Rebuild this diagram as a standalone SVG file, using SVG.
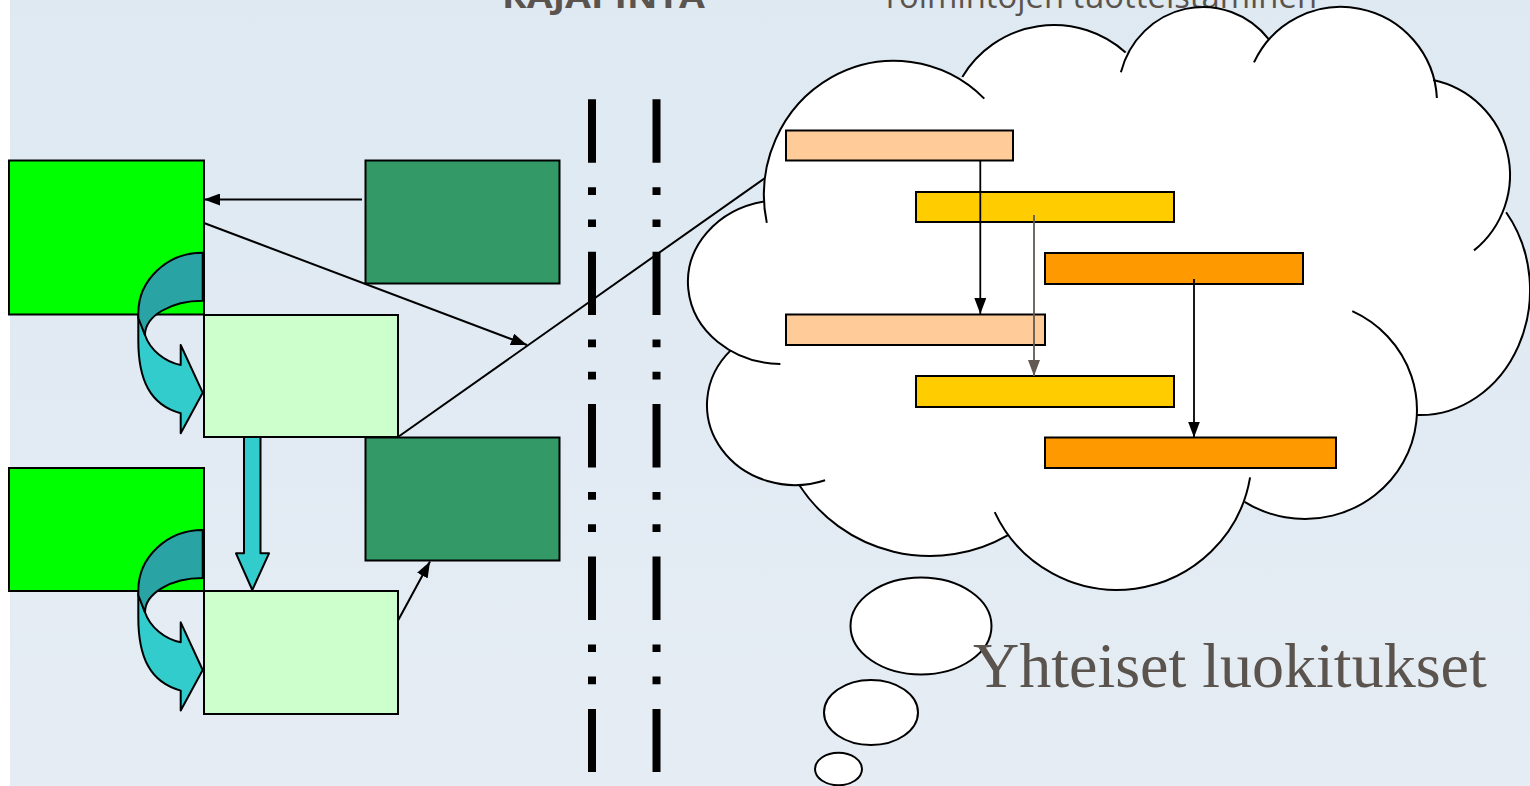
<svg xmlns="http://www.w3.org/2000/svg" width="1530" height="786" viewBox="0 0 1530 786">
  <defs>
    <linearGradient id="bg" x1="0" y1="0" x2="0" y2="1">
      <stop offset="0" stop-color="#DEE9F2"/>
      <stop offset="1" stop-color="#E5ECF4"/>
    </linearGradient>
    <marker id="ah" viewBox="0 0 10 10" refX="10" refY="5" markerWidth="16" markerHeight="12" markerUnits="userSpaceOnUse" orient="auto" preserveAspectRatio="none">
      <path d="M0,0 L10,5 L0,10 Z" fill="#000"/>
    </marker>
    <marker id="ahg" viewBox="0 0 10 10" refX="10" refY="5" markerWidth="16" markerHeight="12" markerUnits="userSpaceOnUse" orient="auto" preserveAspectRatio="none">
      <path d="M0,0 L10,5 L0,10 Z" fill="#615952"/>
    </marker>
    <style>
      .bright{fill:#00FF00;stroke:#000;stroke-width:2}
      .light{fill:#CCFFCC;stroke:#000;stroke-width:2}
      .dark{fill:#339966;stroke:#000;stroke-width:2}
      .conn{stroke:#000;stroke-width:2;fill:none}
      .sep{stroke:#000;stroke-width:8;stroke-dasharray:63.4 24.5 7.7 24.5 7.7 24.6}
      .cyan{fill:#33CCCC;stroke:#000;stroke-width:2;stroke-linejoin:round}
      .teal{fill:#29A3A3;stroke:#000;stroke-width:2;stroke-linejoin:round}
      .lobe{fill:none;stroke:#000;stroke-width:2}
      .bar{stroke:#000;stroke-width:2}
      .head{font-family:"Open Sans","Liberation Sans",sans-serif;font-size:32px;fill:#5B534D}
      .bubble{fill:#fff;stroke:#000;stroke-width:2}
    </style>
  </defs>

  <!-- backdrop -->
  <rect x="0" y="0" width="1530" height="786" fill="#fff"/>
  <rect x="10" y="0" width="1520" height="786" fill="url(#bg)"/>

  <!-- column headings -->
  <text class="head" x="502" y="8" font-weight="bold" textLength="203" lengthAdjust="spacingAndGlyphs">RAJAPINTA</text>
  <text class="head" x="881" y="8" textLength="436" lengthAdjust="spacingAndGlyphs">Toimintojen tuotteistaminen</text>

  <!-- interface boundary lines -->
  <g id="boundary">
    <line class="sep" x1="592" y1="99.3" x2="592" y2="772"/>
    <line class="sep" x1="656.5" y1="99.3" x2="656.5" y2="772"/>
  </g>

  <!-- process boxes -->
  <g id="bright1"><rect class="bright" x="9" y="160.5" width="195" height="154"/></g>
  <g id="bright2"><rect class="bright" x="9" y="468" width="195" height="123"/></g>
  <g id="light1"><rect class="light" x="204" y="315" width="194" height="122"/></g>
  <g id="light2"><rect class="light" x="204" y="591" width="194" height="123"/></g>
  <g id="dark1"><rect class="dark" x="365.5" y="160.5" width="194" height="123"/></g>
  <g id="dark2"><rect class="dark" x="365.5" y="437.5" width="194" height="123"/></g>

  <!-- curved hand-over arrows -->
  <g id="curl1">
    <path class="cyan" d="M138.3,316 L138.3,340 C138.3,380 150,405 180.7,413.3 L180.7,433.3 L202.7,392.7 L180.7,345 L180.7,365 C165,362 150,350 145,335 Z"/>
    <path class="teal" d="M202.7,252.7 C167.1,252.7 138.3,279.8 138.3,313.3 L138.3,318 L145,335 C145,316.1 170.8,300.7 202.7,300.7 Z"/>
  </g>
  <g id="curl2" transform="translate(0,277.3)">
    <path class="cyan" d="M138.3,316 L138.3,340 C138.3,380 150,405 180.7,413.3 L180.7,433.3 L202.7,392.7 L180.7,345 L180.7,365 C165,362 150,350 145,335 Z"/>
    <path class="teal" d="M202.7,252.7 C167.1,252.7 138.3,279.8 138.3,313.3 L138.3,318 L145,335 C145,316.1 170.8,300.7 202.7,300.7 Z"/>
  </g>

  <!-- connectors -->
  <g id="connectors">
    <line class="conn" x1="362" y1="199.5" x2="204" y2="199.5" marker-end="url(#ah)"/>
    <line class="conn" x1="204" y1="223" x2="527" y2="345" marker-end="url(#ah)"/>
    <line class="conn" x1="398" y1="437" x2="765" y2="178"/>
    <line class="conn" x1="398.3" y1="620" x2="430" y2="561.5" marker-end="url(#ah)"/>
    <path class="cyan" d="M244,437 L260.5,437 L260.5,553.3 L269,553.3 L252.3,590 L236,553.3 L244,553.3 Z"/>
  </g>

  <!-- thought cloud -->
  <g id="cloud">
    <g fill="#fff">
      <ellipse cx="894" cy="195" rx="130" ry="134"/>
      <circle cx="1054" cy="132" r="107"/>
      <ellipse cx="1203" cy="95" rx="85" ry="88"/>
      <circle cx="1341" cy="103" r="96"/>
      <circle cx="1413" cy="175" r="97"/>
      <ellipse cx="1420" cy="290" rx="110" ry="125"/>
      <ellipse cx="1305" cy="410" rx="112" ry="109"/>
      <circle cx="1117" cy="455" r="135"/>
      <circle cx="930" cy="400" r="156"/>
      <ellipse cx="795" cy="405" rx="88" ry="80"/>
      <ellipse cx="782" cy="282" rx="94" ry="82"/>
      <polygon points="894,195 1054,132 1203,95 1341,103 1413,175 1420,290 1305,410 1117,455 930,400 795,405 782,282"/>
    </g>
    <path class="lobe" d="M766.8,222.9 A130 134 0 0 1 984.3,98.6"/>
    <path class="lobe" d="M962.3,76.9 A107 107 0 0 1 1125.6,52.5"/>
    <path class="lobe" d="M1120.9,72.2 A85 88 0 0 1 1269.1,39.6"/>
    <path class="lobe" d="M1254,62.4 A96 96 0 0 1 1436.9,98"/>
    <path class="lobe" d="M1433.2,80.1 A97 97 0 0 1 1474,250.4"/>
    <path class="lobe" d="M1506.1,212.2 A110 125 0 0 1 1417.1,415"/>
    <path class="lobe" d="M1352.3,311.2 A112 109 0 1 1 1244.6,501.8"/>
    <path class="lobe" d="M1250.1,477.3 A135 135 0 0 1 994.7,512.1"/>
    <path class="lobe" d="M1008,535.1 A156 156 0 0 1 799.2,485"/>
    <path class="lobe" d="M825.1,480.2 A88 80 0 0 1 730.7,350.4"/>
    <path class="lobe" d="M780.4,364 A94 82 0 0 1 764.1,201.5"/>
  </g>

  <!-- activity bars -->
  <g id="bar-peach1"><rect class="bar" x="786" y="130.5" width="227" height="30" fill="#FFCC99"/></g>
  <g id="bar-yellow1"><rect class="bar" x="916" y="192" width="258" height="30" fill="#FFCC00"/></g>
  <g id="bar-orange1"><rect class="bar" x="1045" y="253" width="258" height="31" fill="#FF9900"/></g>
  <g id="bar-peach2"><rect class="bar" x="786" y="314.5" width="259" height="30.5" fill="#FFCC99"/></g>
  <g id="bar-yellow2"><rect class="bar" x="916" y="376" width="258" height="31" fill="#FFCC00"/></g>
  <g id="bar-orange2"><rect class="bar" x="1045" y="437.5" width="291" height="30.5" fill="#FF9900"/></g>

  <g id="bar-links">
    <line x1="980.3" y1="161" x2="980.3" y2="314" stroke="#000" stroke-width="1.8" marker-end="url(#ah)"/>
    <line x1="1034" y1="215" x2="1034" y2="376" stroke="#615952" stroke-width="1.8" marker-end="url(#ahg)"/>
    <line x1="1194" y1="279" x2="1194" y2="437.5" stroke="#000" stroke-width="1.8" marker-end="url(#ah)"/>
  </g>

  <!-- thought bubbles -->
  <g id="bubbles">
    <ellipse class="bubble" cx="921" cy="626" rx="70.5" ry="48.5"/>
    <ellipse class="bubble" cx="871" cy="712.5" rx="47" ry="32.5"/>
    <ellipse class="bubble" cx="838.5" cy="769" rx="23.5" ry="16.3"/>
  </g>

  <text x="973" y="687" font-family="'Liberation Serif','Times New Roman',serif" font-size="64" fill="#5B534D">Yhteiset luokitukset</text>
</svg>
